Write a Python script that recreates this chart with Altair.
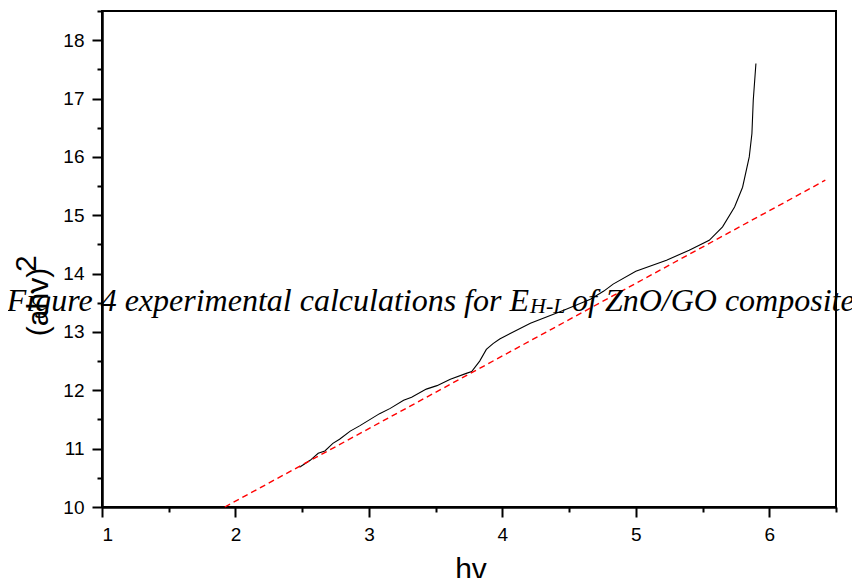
import altair as alt
import pandas as pd

# measured curve (hv, (ahv)^2)
curve_x = [2.48, 2.56, 2.62, 2.67, 2.73, 2.78, 2.86, 2.93, 3.08, 3.16, 3.26, 3.32,
           3.43, 3.51, 3.61, 3.73, 3.77, 3.83, 3.88, 3.93, 3.98, 4.21, 4.46, 4.66,
           4.76, 4.83, 5.00, 5.23, 5.40, 5.55, 5.65, 5.74, 5.80, 5.85, 5.87, 5.88, 5.90]
curve_y = [10.68, 10.80, 10.92, 10.96, 11.09, 11.16, 11.30, 11.39, 11.60, 11.69, 11.83, 11.88,
           12.02, 12.08, 12.19, 12.29, 12.32, 12.50, 12.70, 12.80, 12.88, 13.15, 13.37, 13.56,
           13.70, 13.82, 14.04, 14.23, 14.40, 14.57, 14.80, 15.14, 15.48, 16.00, 16.40, 16.97, 17.60]

# linear fit (red dashed)
fit_x = [1.92, 6.42]
fit_y = [10.0, 15.60]

x_major = [1, 2, 3, 4, 5, 6]
x_minor = [1.5, 2.5, 3.5, 4.5, 5.5, 6.5]
y_major = [10, 11, 12, 13, 14, 15, 16, 17, 18]
y_minor = [10.5, 11.5, 12.5, 13.5, 14.5, 15.5, 16.5, 17.5, 18.5]

caption_a = "Figure 4 experimental calculations for E"
caption_sub = "H-L"
caption_b = "of ZnO/GO composite"
x_title = "hv"
y_title = "(ahv)"
y_title_sup = "2"

W, H = 734, 496
xs = alt.Scale(domain=[1, 6.5], nice=False, zero=False)
ys = alt.Scale(domain=[10, 18.5], nice=False, zero=False)

axis_common = dict(domainColor="black", domainWidth=2, tickColor="black", tickWidth=2,
                   labelFont="Liberation Sans", labelFontSize=19, labelColor="black",
                   grid=False, title=None)

curve_df = pd.DataFrame({"x": curve_x, "y": curve_y})
fit_df = pd.DataFrame({"x": fit_x, "y": fit_y})

curve = alt.Chart(curve_df).mark_line(color="black", strokeWidth=1.1).encode(
    x=alt.X("x:Q", scale=xs, axis=alt.Axis(values=x_major, orient="bottom", tickSize=10,
                                           labelPadding=8, **axis_common)),
    y=alt.Y("y:Q", scale=ys, axis=alt.Axis(values=y_major, orient="left", tickSize=10,
                                           labelPadding=8, **axis_common)),
)

fit = alt.Chart(fit_df).mark_line(color="#ff0000", strokeWidth=1.4, strokeDash=[6, 4]).encode(
    x=alt.X("x:Q", scale=xs, axis=alt.Axis(values=x_minor, orient="bottom", tickSize=5,
                                           labels=False, **axis_common)),
    y=alt.Y("y:Q", scale=ys, axis=alt.Axis(values=y_minor, orient="left", tickSize=5,
                                           labels=False, **axis_common)),
)

def txt(s, x, y, size, font, style="normal", align="left", angle=0):
    return alt.Chart(pd.DataFrame({"t": [s]})).mark_text(
        font=font, fontSize=size, fontStyle=style, align=align, baseline="alphabetic",
        angle=angle, color="black"
    ).encode(x=alt.value(x), y=alt.value(y), text="t:N")

texts = [
    txt(caption_a, 427, 300, 32, "Liberation Serif", "italic", "right"),
    txt(caption_sub, 428, 302, 22, "Liberation Serif", "italic", "left"),
    txt(caption_b, 470, 300, 32, "Liberation Serif", "italic", "left"),
    txt(x_title, 369, 568, 30, "Liberation Sans", "normal", "center"),
    txt(y_title, -54, 291, 30, "Liberation Sans", "normal", "center", 270),
    txt(y_title_sup, -66, 261, 30, "Liberation Sans", "normal", "left", 270),
]

chart = alt.layer(curve, fit, *texts).resolve_axis(x="independent", y="independent").properties(
    width=W, height=H,
    autosize=alt.AutoSizeParams(type="none"),
    padding={"left": 94, "top": 3, "right": 16, "bottom": 71},
).configure_view(stroke="black", strokeWidth=2)

chart.save("out.html", embed_options={"renderer": "svg", "actions": False})
